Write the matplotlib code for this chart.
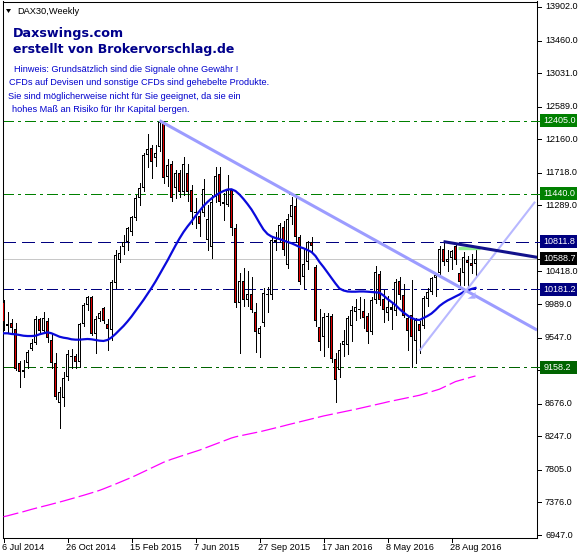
import matplotlib
matplotlib.use("Agg")
import matplotlib.pyplot as plt
from matplotlib.patches import Rectangle, Polygon
from matplotlib.lines import Line2D

plt.rcParams['lines.scale_dashes'] = False
FONT = ['Liberation Sans', 'DejaVu Sans']

# ---------------- data ----------------
opens = [10010, 9700, 9735, 9660, 9215, 9095, 9210, 9398, 9477, 9794, 9640, 9765, 9516, 9212, 8690, 8752,
         9028, 9300, 9305, 9230, 9730, 9980, 10080, 9594, 9786, 9940, 9730, 9650, 10270, 10570, 10740, 10800,
         10940, 11120, 11380, 11520, 11950, 12045, 11910, 12060, 12375, 11660, 11830, 11520, 11710, 11465, 11720, 11490,
         11190, 11150, 11190, 10830, 10740, 11400, 11700, 11330, 11300, 11490, 10990, 10000, 10290, 10040, 10120, 9890,
         9600, 9735, 10110, 10115, 10800, 10830, 11010, 10500, 11130, 11280, 10870, 10350, 10540, 10800, 10480, 9690,
         9560, 9825, 9830, 9260, 9120, 9450, 9450, 9700, 9890, 9930, 9900, 9830, 9625, 10043, 10380, 10060,
         9870, 9950, 9900, 10290, 10110, 9800, 9850, 9500, 9720, 9700, 10050, 10150, 10330, 10400, 10710, 10540,
         10590, 10750, 10400, 10395, 10570, 10530, 10520]
highs = [10045, 9890, 9790, 9740, 9240, 9250, 9380, 9530, 9830, 9800, 9890, 9810, 9600, 9340, 8900, 9100,
         9380, 9400, 9330, 9740, 10000, 10093, 10100, 9830, 9900, 9950, 9790, 10300, 10700, 10760, 10900, 11000,
         11150, 11420, 11580, 11980, 12230, 12080, 12080, 12405, 12400, 11900, 11870, 11750, 11750, 11920, 11830, 11560,
         11380, 11220, 11630, 11300, 11420, 11800, 11800, 11450, 11690, 11500, 11050, 10400, 10470, 10420, 10350, 10000,
         9700, 10200, 10220, 10870, 10940, 11060, 11080, 11170, 11400, 11430, 10900, 10720, 10820, 10870, 10500, 9930,
         9870, 9870, 9860, 9340, 9480, 9650, 9830, 9960, 10050, 10080, 10050, 9870, 10080, 10485, 10430, 10175,
         10100, 10000, 10320, 10340, 10250, 9850, 10300, 9800, 9760, 10100, 10200, 10340, 10400, 10750, 10811.8, 10700,
         10700, 10780, 10460, 10680, 10620, 10650, 10727]
lows = [9650, 9614, 9610, 9120, 8900, 9030, 9150, 9380, 9460, 9610, 9620, 9490, 9150, 8740, 8355, 8640,
        8990, 9150, 9150, 9160, 9700, 9910, 9580, 9350, 9760, 9740, 9384, 9520, 10200, 10540, 10650, 10700,
        10900, 11100, 11300, 11480, 11800, 11650, 11810, 12000, 11580, 11550, 11350, 11380, 11400, 11420, 11350, 11050,
        10990, 10880, 11150, 10700, 10600, 11340, 11300, 11100, 11280, 10900, 9950, 9338, 9960, 9970, 9880, 9360,
        9290, 9700, 9890, 10050, 10700, 10800, 10630, 10470, 11050, 10800, 10250, 10200, 10450, 10680, 9700, 9390,
        9300, 9420, 9230, 8700, 9030, 9300, 9330, 9500, 9780, 9800, 9680, 9470, 9600, 10000, 9980, 9757,
        9780, 9660, 9850, 10050, 9820, 9380, 9158.2, 9214, 9340, 9680, 9960, 10120, 10100, 10380, 10500, 10420,
        10450, 10520, 10190, 10240, 10181.2, 10400, 10372]
closes = [9755, 9730, 9675, 9140, 9100, 9125, 9360, 9475, 9794, 9636, 9805, 9537, 9212, 8765, 8830, 9015,
          9331, 9290, 9226, 9727, 9980, 10087, 9594, 9786, 9870, 9764, 9660, 10280, 10635, 10660, 10800, 10990,
          11130, 11380, 11520, 11950, 12030, 11860, 11980, 12390, 11650, 11820, 11390, 11710, 11465, 11830, 11465, 11200,
          11200, 11040, 11510, 11110, 11330, 11673, 11330, 11310, 11490, 10985, 10007, 10298, 10040, 10123, 9910, 9620,
          9680, 10130, 10120, 10830, 10835, 11030, 10700, 11110, 11300, 10870, 10285, 10520, 10800, 10760, 9760, 9493,
          9825, 9830, 9260, 8990, 9384, 9500, 9805, 9910, 9955, 9910, 9810, 9625, 10043, 10405, 10040, 9910,
          9952, 9916, 10286, 10103, 9834, 9631, 9557, 9776, 9629, 10067, 10147, 10337, 10367, 10713, 10544, 10587,
          10684, 10576, 10286, 10610, 10530, 10490, 10588.7]

ma_blue = [9604, 9604, 9595, 9591, 9582, 9572, 9568, 9568, 9572, 9591, 9604, 9617, 9604, 9582, 9559, 9546,
           9538, 9525, 9520, 9520, 9525, 9529, 9525, 9516, 9507, 9503, 9516, 9549, 9595, 9648, 9700, 9760,
           9825, 9898, 9970, 10043, 10122, 10201, 10286, 10378, 10471, 10563, 10662, 10760, 10853, 10938, 11011, 11077,
           11149, 11215, 11281, 11334, 11380, 11419, 11452, 11478, 11498, 11501, 11478, 11432, 11373, 11307, 11235, 11149,
           11057, 10971, 10912, 10879, 10859, 10846, 10826, 10807, 10790, 10767, 10741, 10724, 10701, 10675, 10622, 10543,
           10477, 10405, 10332, 10260, 10194, 10168, 10155, 10152, 10152, 10155, 10155, 10152, 10148, 10144, 10139, 10102,
           10056, 10016, 9977, 9924, 9878, 9839, 9806, 9786, 9779, 9806, 9832, 9865, 9911, 9964, 10003, 10036,
           10062, 10089, 10115, 10148, 10168, 10188, 10201]
ma_magenta = [7188, 7200, 7214, 7228, 7241, 7255, 7270, 7285, 7299, 7312, 7326, 7339, 7353, 7367, 7381, 7395,
              7410, 7425, 7440, 7455, 7470, 7486, 7502, 7518, 7535, 7555, 7576, 7597, 7618, 7640, 7662, 7684,
              7706, 7730, 7755, 7780, 7805, 7830, 7855, 7880, 7905, 7925, 7945, 7962, 7980, 7997, 8014, 8031,
              8048, 8065, 8085, 8105, 8125, 8145, 8165, 8185, 8205, 8225, 8240, 8252, 8263, 8274, 8285, 8296,
              8306, 8319, 8332, 8345, 8358, 8371, 8384, 8398, 8411, 8424, 8437, 8450, 8463, 8476, 8489, 8502,
              8515, 8526, 8537, 8548, 8559, 8570, 8581, 8592, 8603, 8615, 8627, 8639, 8651, 8663, 8675, 8687,
              8700, 8711, 8722, 8733, 8744, 8755, 8766, 8777, 8788, 8804, 8820, 8836, 8852, 8868, 8893, 8918,
              8943, 8968, 8983, 8998, 9013, 9028, 9042]

price_ticks = [13902, 13460, 13031, 12589, 12160, 11718, 11289, 10418, 9989, 9547, 9118, 8676, 8247, 7805, 7376, 6947]
date_labels = ["6 Jul 2014", "26 Oct 2014", "15 Feb 2015", "7 Jun 2015", "27 Sep 2015",
               "17 Jan 2016", "8 May 2016", "28 Aug 2016"]
date_bars = [0, 16, 32, 48, 64, 80, 96, 112]

level_values = [12405.0, 11440.0, 10811.8, 10588.7, 10181.2, 9158.2]
level_colors = ['#008000', '#008000', '#000080', '#C8C8C8', '#000080', '#006400']
level_box = ['#008000', '#008000', '#000080', '#000000', '#000080', '#006400']
level_style = ['dashdot', 'dashdot', 'dash', 'solid', 'dashdot', 'dashdot']

trend_desc = [(39, 12405), (133.4, 9647)]
trend_up = [(104, 9375), (132.9, 11337)]
trend_navy = [(110, 10811.8), (133.4, 10605)]
green_seg = [(113.5, 10724), (119.0, 10724)]

# ---------------- layout ----------------
W, H = 580, 559
fig = plt.figure(figsize=(W / 100, H / 100), dpi=100)
fig.patch.set_facecolor('white')
AX_L, AX_R, AX_T, AX_B = 2.5, 537.0, 1.5, 538.0
ax = fig.add_axes([AX_L / W, 1 - AX_B / H, (AX_R - AX_L) / W, (AX_B - AX_T) / H])
XMIN = -0.25
XMAX = XMIN + (AX_R - AX_L) / 4.0
YMIN, YMAX = 6907.7, 13974.4
PPX = (YMAX - YMIN) / (AX_B - AX_T)      # price units per pixel
ax.set_xlim(XMIN, XMAX)
ax.set_ylim(YMIN, YMAX)
ax.set_xticks([])
ax.set_yticks([])
for s in ax.spines.values():
    s.set_linewidth(0.75)
    s.set_color('black')
ax.set_facecolor('white')


def py(p):
    """price -> pixel y measured from image top"""
    return AX_T + (YMAX - p) / PPX


def px(i):
    return AX_L + (i - XMIN) * 4.0


def ftext(x, y, s, **kw):
    fig.text(x / W, 1 - y / H, s, **kw)


# horizontal levels
dash_map = {'dashdot': (0, (7.5, 3.0, 1.5, 3.0)), 'dash': (0, (9.0, 4.5)), 'solid': '-'}
for v, c, st in zip(level_values, level_colors, level_style):
    ax.axhline(v, color=c, lw=0.72, linestyle=dash_map[st], zorder=1 if st == 'solid' else 2,
               antialiased=False)

# candles: 3 px wide body, 1 px black border, 1 px wide colour core
OUT = 1.45 / 4.0
INN = 0.45 / 4.0
n = len(closes)
for i in range(n):
    o, h, l, c = opens[i], highs[i], lows[i], closes[i]
    ax.vlines(i, l, h, color='black', lw=0.72, zorder=3, antialiased=False)
    lo, hi = min(o, c), max(o, c)
    face = 'white' if c >= o else '#E00000'
    if hi - lo < 2.6 * PPX:
        mid = (o + c) / 2
        hh = max(hi - lo, 0.9 * PPX)
        ax.add_patch(Rectangle((i - OUT, mid - hh / 2), 2 * OUT, hh, facecolor='black',
                               edgecolor='none', zorder=3.1, antialiased=False))
    else:
        ax.add_patch(Rectangle((i - OUT, lo), 2 * OUT, hi - lo, facecolor='black',
                               edgecolor='none', zorder=3.1, antialiased=False))
        ax.add_patch(Rectangle((i - INN, lo + PPX), 2 * INN, hi - lo - 2 * PPX, facecolor=face,
                               edgecolor='none', zorder=3.2, antialiased=False))

xs = list(range(n))
ax.plot(xs, ma_magenta, color='#FF00FF', lw=0.9, linestyle=(0, (11, 3)), zorder=4)
ax.plot(xs, ma_blue, color='#0A0ADC', lw=1.6, zorder=4.2)

# trend lines
ax.plot(*zip(*trend_desc), color='#9C9CFF', lw=2.2, zorder=5, solid_capstyle='butt')
ax.plot(*zip(*trend_up), color='#B8B8FF', lw=1.5, zorder=5, solid_capstyle='butt')
ax.plot(*zip(*trend_navy), color='#12128C', lw=2.2, zorder=5.2, solid_capstyle='butt')
ax.plot(*zip(*green_seg), color='#90EE90', lw=2.4, zorder=5.1, solid_capstyle='butt')
ax.add_patch(Polygon([(116.0, 10060), (118.0, 10060), (118.0, 10150), (117.2, 10100)],
                     closed=True, facecolor='#AAAAFF', edgecolor='none', zorder=5.3))

# price axis ticks and labels
for t in price_ticks:
    y = py(t)
    fig.add_artist(Line2D([AX_R / W, (AX_R + 4) / W], [1 - y / H, 1 - y / H], color='black', lw=0.72))
    ftext(545, y, f"{t:.1f}", family=FONT, fontsize=6.5, va='center', ha='left', color='black')

# level labels
for v, bc in zip(level_values, level_box):
    y = py(v)
    fig.add_artist(Rectangle((540 / W, 1 - (y + 6.5) / H), 37 / W, 13 / H, transform=fig.transFigure,
                             facecolor=bc, edgecolor='none', zorder=10))
    fig.add_artist(Line2D([AX_R / W, 540 / W], [1 - y / H, 1 - y / H], color=bc, lw=0.72, zorder=10))
    ftext(543.5, y, f"{v:.1f}", family=FONT, fontsize=6.5, va='center', ha='left', color='white',
          zorder=11)

# date axis
for b, lab in zip(date_bars, date_labels):
    x = px(b)
    fig.add_artist(Line2D([x / W, x / W], [1 - AX_B / H, 1 - (AX_B + 4) / H], color='black', lw=0.72))
    ftext(x - 1.5, 548, lab, family=FONT, fontsize=6.6, va='center', ha='left', color='black')

# header texts
fig.add_artist(Polygon([(6 / W, 1 - 9 / H), (11 / W, 1 - 9 / H), (8.5 / W, 1 - 13 / H)],
                       closed=True, transform=fig.transFigure, facecolor='black', edgecolor='none'))
ftext(17, 11, "DAX30,Weekly", family=FONT, fontsize=6.7, va='center', ha='left', color='black')
ftext(13, 36.7, "Daxswings.com", family='DejaVu Sans', fontweight='bold', fontsize=9.2,
      va='baseline', ha='left', color='#00008B')
ftext(13, 53.3, "erstellt von Brokervorschlag.de", family='DejaVu Sans', fontweight='bold', fontsize=9,
      va='baseline', ha='left', color='#00008B')
notes = ["Hinweis: Grundsätzlich sind die Signale ohne Gewähr !",
         "CFDs auf Devisen und sonstige CFDs sind gehebelte Produkte.",
         "Sie sind möglicherweise nicht für Sie geeignet, da sie ein",
         "hohes Maß an Risiko für Ihr Kapital bergen."]
note_x = [14, 9.3, 8.3, 11.7]
note_y = [69.5, 82.3, 96.5, 110]
for s, x, y in zip(notes, note_x, note_y):
    ftext(x, y, s, family=FONT, fontsize=6.6, va='center', ha='left', color='#0000CD')

fig.savefig("out.png", dpi=100, facecolor='white')
